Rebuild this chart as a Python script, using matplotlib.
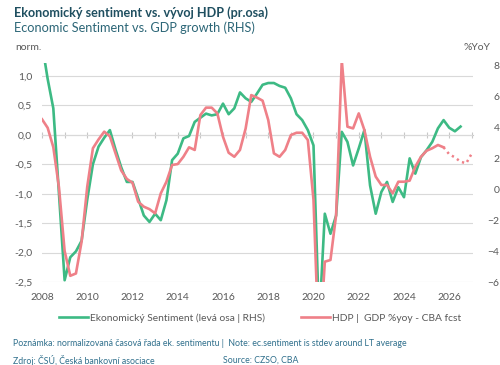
import numpy as np
import matplotlib
matplotlib.use("Agg")
import matplotlib.pyplot as plt
from matplotlib.ticker import FuncFormatter

plt.rcParams['font.family'] = ['Lato', 'DejaVu Sans']

# ctvrtletni data 2008Q1 .. 2027Q1
kvartaly = 2008 + np.arange(77) / 4

# ekonomicky sentiment (normalizovany), 2008Q1 .. 2026Q3
sentiment = [1.55, 0.95, 0.45, -1.0, -2.47, -2.08, -1.98, -1.8, -1.1, -0.5,
             -0.2, -0.05, 0.08, -0.25, -0.55, -0.8, -0.8, -1.08, -1.37, -1.48,
             -1.34, -1.45, -1.11, -0.43, -0.32, -0.06, -0.02, 0.22, 0.29, 0.36,
             0.33, 0.35, 0.53, 0.35, 0.45, 0.72, 0.62, 0.56, 0.7, 0.85,
             0.88, 0.88, 0.83, 0.8, 0.62, 0.35, 0.25, 0.08, -0.18, -3.2,
             -1.34, -1.68, -1.37, 0.05, -0.12, -0.52, -0.23, 0.08, -0.86, -1.34,
             -0.97, -0.8, -1.14, -0.89, -1.06, -0.4, -0.66, -0.38, -0.26, -0.12,
             0.11, 0.25, 0.12, 0.06, 0.14]

# HDP %yoy, 2008Q1 .. 2025Q4 (skutecnost)
hdp = [4.5, 3.95, 2.7, 0.1, -4.0, -5.6, -5.45, -3.4, 0.15, 2.63,
       3.2, 3.7, 3.4, 2.3, 1.2, 0.65, 0.4, -0.82, -1.14, -1.3,
       -1.57, -0.28, 0.47, 1.55, 1.61, 2.08, 2.69, 2.52, 4.77, 5.25,
       5.25, 4.88, 3.37, 2.34, 2.08, 2.52, 3.9, 6.06, 5.9, 5.7,
       4.45, 2.3, 2.08, 2.52, 3.48, 3.63, 3.63, 3.16, -0.7, -10.8,
       -4.69, -4.58, -1.68, 8.3, 4.02, 3.91, 4.88, 3.8, 2.08, 0.8,
       0.26, 0.26, -0.28, 0.47, 0.47, 0.54, 1.44, 2.08, 2.47, 2.63,
       2.84, 2.69]

# prognoza CBA, 2025Q4 .. 2027Q1
hdp_fcst = [2.69, 2.24, 2.04, 1.76, 1.66, 2.3]

zelena = '#3dba84'
cervena = '#ef8088'
sediva = '#595959'

fig = plt.figure(figsize=(5, 3.65), dpi=100)
ax = fig.add_axes([42 / 500, 1 - 282 / 365, 431 / 500, 219 / 365])
ax2 = ax.twinx()

ax.plot(kvartaly[:len(sentiment)], sentiment, color=zelena, lw=1.9,
        solid_joinstyle='round', label='Ekonomický Sentiment (levá osa | RHS)')
ax2.plot(kvartaly[:len(hdp)], hdp, color=cervena, lw=1.9,
         solid_joinstyle='round', label='HDP |  GDP %yoy - CBA fcst')
ax2.plot(kvartaly[len(hdp) - 1:], hdp_fcst, color=cervena, lw=1.8,
         ls=(0, (0.9, 1.5)))

ylo, yhi = -2.5, 1.22
ax.set_ylim(ylo, yhi)
ax2.set_ylim(-6, 8.13)
ax.set_xlim(2008, 2027.05)

ax.set_yticks(np.arange(-2.5, 1.01, 0.5))
ax.yaxis.set_major_formatter(FuncFormatter(lambda v, p: f'{v:.1f}'.replace('.', ',')))
ax2.set_yticks(np.arange(-6, 9, 2))

ax.grid(axis='y', color='#d9d9d9', lw=0.8)
ax.set_axisbelow(True)
for a in (ax, ax2):
    for s in a.spines.values():
        s.set_visible(False)
ax.tick_params(axis='y', length=0, pad=7, labelsize=7.5, labelcolor=sediva)
ax2.tick_params(axis='y', length=0, pad=19, labelsize=7.5, labelcolor=sediva)
for t in ax2.get_yticklabels():
    t.set_horizontalalignment('right')

ax.set_xticks(range(2008, 2027, 2))
ax.tick_params(axis='x', length=0, pad=8, labelsize=7.5, labelcolor=sediva)

# osa x v nule leve osy s rocnimi carkami
osa0 = ax.secondary_xaxis((0 - ylo) / (yhi - ylo))
osa0.set_xticks(range(2008, 2028))
osa0.tick_params(axis='x', direction='inout', length=4, color='#c8c8c8', labelbottom=False, labeltop=False)
osa0.spines['bottom'].set_color('#c8c8c8')
osa0.spines['top'].set_color('#c8c8c8')
osa0.spines['bottom'].set_linewidth(0.8)

fig.text(14 / 500, 1 - 13 / 365, 'Ekonomický sentiment vs. vývoj HDP (pr.osa)',
         fontsize=9.1, fontweight='bold', color='#1f4f60', va='center')
fig.text(14 / 500, 1 - 28 / 365, 'Economic Sentiment vs. GDP growth (RHS)',
         fontsize=9.2, color='#2c6677', va='center')
fig.text(15 / 500, 1 - 48 / 365, 'norm.', fontsize=7.5, color=sediva, va='center')
fig.text(490 / 500, 1 - 48 / 365, '%YoY', fontsize=7.5, color=sediva, va='center', ha='right')

h1, l1 = ax.get_legend_handles_labels()
h2, l2 = ax2.get_legend_handles_labels()
fig.legend(h1 + h2, l1 + l2, loc='center', bbox_to_anchor=(0.52, 1 - 318 / 365), ncol=2,
           frameon=False, fontsize=7.4, labelcolor=sediva, handlelength=2.8,
           handletextpad=0.2, columnspacing=3.5)

fig.text(13 / 500, 1 - 344 / 365,
         'Poznámka: normalizovaná časová řada ek. sentimentu |  Note: ec.sentiment is stdev around LT average',
         fontsize=6.3, color='#2f6f8c', va='center')
fig.text(13 / 500, 1 - 360 / 365, 'Zdroj: ČSÚ, Česká bankovní asociace',
         fontsize=6.3, color='#2f6f8c', va='center')
fig.text(223 / 500, 1 - 360 / 365, 'Source: CZSO, CBA',
         fontsize=6.3, color='#2f6f8c', va='center')

fig.savefig('out.png', dpi=100)
